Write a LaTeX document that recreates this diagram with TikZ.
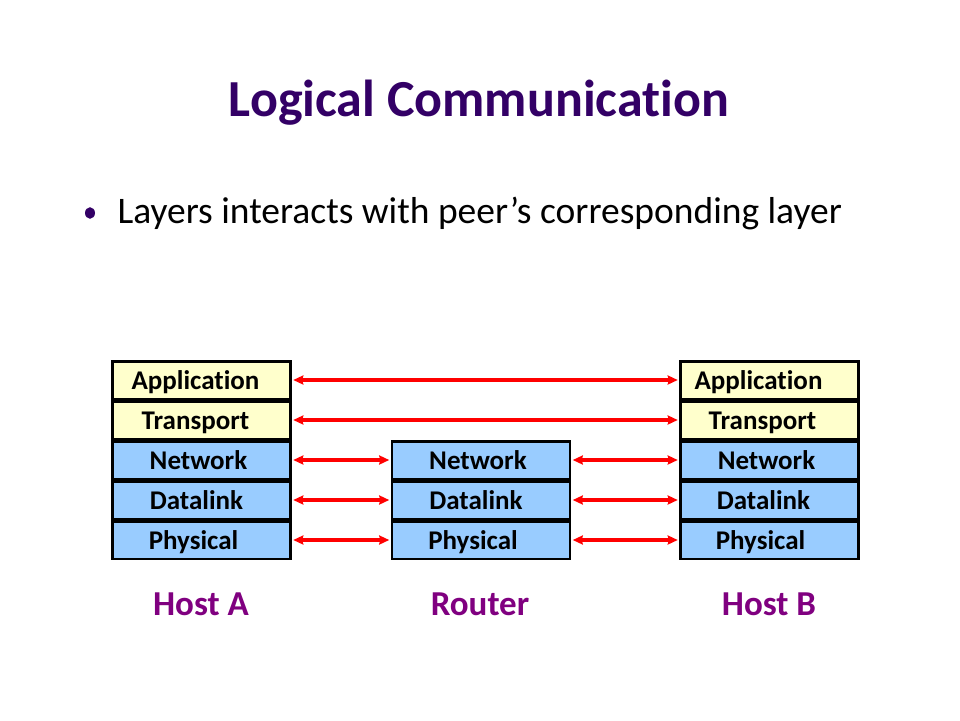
\documentclass[tikz,border=0pt]{standalone}
\usepackage{fontspec}
\setmainfont{Carlito}[Ligatures=NoCommon]
\usetikzlibrary{arrows.meta}
\definecolor{titlec}{RGB}{51,0,102}
\definecolor{hostc}{RGB}{128,0,128}
\definecolor{yel}{RGB}{255,255,204}
\definecolor{blu}{RGB}{153,204,255}
\definecolor{arrred}{RGB}{255,0,0}
\tikzset{
  layer/.style={draw=black, line width=2.5pt, minimum width=178pt, minimum height=37.5pt, inner sep=0pt,
    text height=22pt, text depth=2.6pt,
    font=\fontsize{27}{30}\selectfont\bfseries, text=black},
  upper/.style={layer, fill=yel},
  lower/.style={layer, fill=blu},
  peer/.style={draw=arrred, line width=3.2pt, {Stealth[length=10pt,width=9pt,inset=1pt]}-{Stealth[length=10pt,width=9pt,inset=1pt]}, shorten <=1.5pt, shorten >=1.5pt},
  hostlabel/.style={text=hostc, font=\fontsize{35}{40}\selectfont\bfseries},
}
\begin{document}
\begin{tikzpicture}[x=1pt,y=-1pt]
\useasboundingbox (0,0) rectangle (960,720);
\fill[white] (0,0) rectangle (960,720);
\node[text=titlec, font=\fontsize{52}{58}\selectfont\bfseries] (title) at (479,103) {Logical Communication};
\fill[titlec] (90,213) ellipse (5pt and 5.8pt);
\node[anchor=west, font=\fontsize{37.5}{44}\selectfont] (bullet) at (114,213) {Layers interacts with peer’s corresponding layer};
% Host A
\node[upper] (A-app) at (201.5,380) {Application\kern12pt};
\node[upper] (A-tra) at (201.5,420) {Transport\kern12pt};
\node[lower] (A-net) at (201.5,460) {Network\kern6pt};
\node[lower] (A-dl)  at (201.5,500) {Datalink\kern10pt};
\node[lower] (A-ph)  at (201.5,540) {Physical\kern16pt};
% Router
\node[lower] (R-net) at (481,460) {Network\kern6pt};
\node[lower] (R-dl)  at (481,500) {Datalink\kern10pt};
\node[lower] (R-ph)  at (481,540) {Physical\kern16pt};
% Host B
\node[upper] (B-app) at (769.5,380) {Application\kern22pt};
\node[upper] (B-tra) at (769.5,420) {Transport\kern14pt};
\node[lower] (B-net) at (769.5,460) {Network\kern6pt};
\node[lower] (B-dl)  at (769.5,500) {Datalink\kern12pt};
\node[lower] (B-ph)  at (769.5,540) {Physical\kern18pt};
% arrows
\draw[peer] (A-app.east) -- (B-app.west);
\draw[peer] (A-tra.east) -- (B-tra.west);
\draw[peer] (A-net.east) -- (R-net.west);
\draw[peer] (A-dl.east) -- (R-dl.west);
\draw[peer] (A-ph.east) -- (R-ph.west);
\draw[peer] (R-net.east) -- (B-net.west);
\draw[peer] (R-dl.east) -- (B-dl.west);
\draw[peer] (R-ph.east) -- (B-ph.west);
% labels
\node[hostlabel] (hostA) at (201,604) {Host A};
\node[hostlabel] (router) at (480,604) {Router};
\node[hostlabel] (hostB) at (769,604) {Host B};
\end{tikzpicture}
\end{document}
